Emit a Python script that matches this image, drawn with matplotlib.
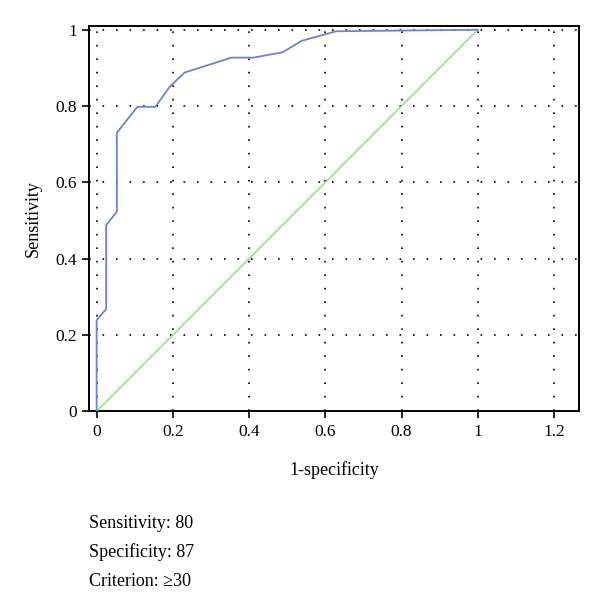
import matplotlib
matplotlib.use("Agg")
import matplotlib.pyplot as plt
import matplotlib.ticker as mtick

plt.rcParams['font.family'] = ['Liberation Serif', 'DejaVu Serif']

# ROC curve
fpr = [0.0, 0.0, 0.025, 0.025, 0.053, 0.053, 0.107, 0.154, 0.192, 0.231,
       0.354, 0.411, 0.488, 0.538, 0.628, 1.0]
tpr = [0.0, 0.239, 0.268, 0.488, 0.523, 0.730, 0.798, 0.798, 0.851, 0.888,
       0.927, 0.927, 0.941, 0.971, 0.996, 1.0]
ref_x = [0, 1]
ref_y = [0, 1]
xticks = [0, 0.2, 0.4, 0.6, 0.8, 1, 1.2]
yticks = [0, 0.2, 0.4, 0.6, 0.8, 1]
stats = ["Sensitivity: 80", "Specificity: 87", "Criterion: \u226530"]

fig = plt.figure(figsize=(6, 6.01), dpi=100)
ax = fig.add_axes([0.149, 0.3156, 0.8155, 0.6406])

ax.plot(ref_x, ref_y, color='#8fe07c', lw=1.1, zorder=3)
ax.plot(fpr, tpr, color='#6a82d8', lw=1.3, zorder=4)

ax.set_xlim(-0.019, 1.265)
ax.set_ylim(0, 1.009)
ax.set_xticks(xticks)
ax.set_yticks(yticks)
ax.xaxis.set_major_formatter(mtick.FormatStrFormatter('%g'))
ax.yaxis.set_major_formatter(mtick.FormatStrFormatter('%g'))
ax.tick_params(direction='out', length=5, width=1.2, labelsize=12.5, pad=4)
ax.grid(True, color='black', linestyle=(0, (1, 7.1)), lw=1.2)

for s in ax.spines.values():
    s.set_linewidth(1.4)

ax.set_xlabel('1-specificity', fontsize=13, labelpad=15)
ax.set_ylabel('Sensitivity', fontsize=13, labelpad=10)

for i, t in enumerate(stats):
    fig.text(0.149, 1 - (523 + 29 * i) / 601, t, fontsize=13, va='center', ha='left')

fig.savefig('out.png', dpi=100)
